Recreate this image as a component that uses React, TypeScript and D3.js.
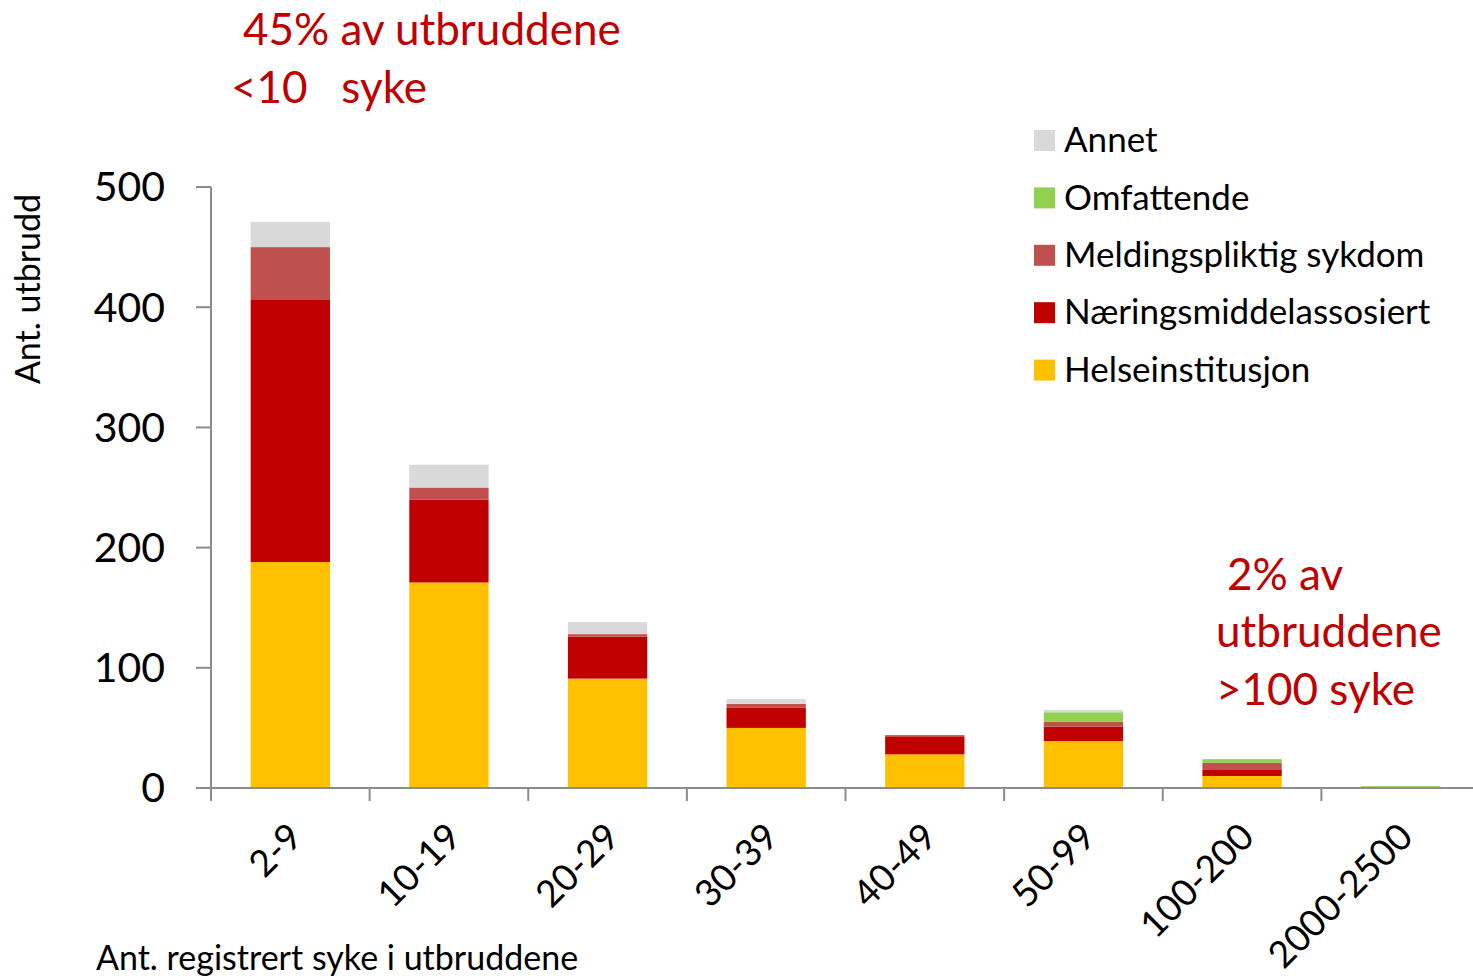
import React from 'react';
import * as d3 from 'd3';

// categories and series values
const categories = ['2-9', '10-19', '20-29', '30-39', '40-49', '50-99', '100-200', '2000-2500'];
const helse = [188, 171, 91, 50, 28, 39, 10, 0];
const naering = [218, 69, 35, 17, 15, 12, 5, 0];
const meldingspliktig = [44, 10, 2, 3, 1, 4, 6, 0];
const omfattende = [0, 0, 0, 0, 0, 8, 3, 1.5];
const annet = [21, 19, 10, 4, 0, 2, 0, 0];
const yTicks = [0, 100, 200, 300, 400, 500];

const seriesNames = ['Helseinstitusjon', 'Næringsmiddelassosiert', 'Meldingspliktig sykdom', 'Omfattende', 'Annet'];
const seriesColors = ['#FFC000', '#C00000', '#C0504D', '#92D050', '#D9D9D9'];

const FONT = 'Lato, "Open Sans", sans-serif';
const RED = '#C00000';

export default function App() {
  const width = 1473, height = 978;
  const margin = { top: 187, left: 211, bottom: 190, right: -7 };

  const rows = categories.map((c, i) => ({
    cat: c,
    Helseinstitusjon: helse[i],
    Næringsmiddelassosiert: naering[i],
    'Meldingspliktig sykdom': meldingspliktig[i],
    Omfattende: omfattende[i],
    Annet: annet[i],
  }));
  const stacked = d3.stack<any>().keys(seriesNames)(rows);

  const x = d3.scaleBand().domain(categories).range([margin.left, width - margin.right]).paddingInner(0.5).paddingOuter(0.25);
  const y = d3.scaleLinear().domain([0, 500]).range([height - margin.bottom + 0, margin.top]);
  const y0 = y(0);
  const step = x.step();
  const edges = d3.range(categories.length + 1).map(i => margin.left + i * step);

  return (
    <svg width={width} height={height} style={{ position: 'absolute', left: 0, top: 0, background: '#fff' }}>
      {stacked.map((s, si) => (
        <g key={s.key} fill={seriesColors[si]}>
          {s.map((d, i) => d[1] - d[0] > 0 ? (
            <rect key={i} x={x(categories[i])} width={x.bandwidth()} y={y(d[1])} height={y(d[0]) - y(d[1])} />
          ) : null)}
        </g>
      ))}
      {/* y axis */}
      <line x1={margin.left} x2={margin.left} y1={y(500)} y2={y0} stroke="#8C8C8C" strokeWidth={2} />
      {yTicks.map(t => (
        <g key={t}>
          <line x1={margin.left - 15} x2={margin.left} y1={y(t)} y2={y(t)} stroke="#8C8C8C" strokeWidth={2} />
          <text x={165} y={y(t)} dy="0.35em" textAnchor="end" fontFamily={FONT} fontSize={41} fill="#000">{t}</text>
        </g>
      ))}
      {/* x axis */}
      <line x1={margin.left} x2={width} y1={y0} y2={y0} stroke="#8C8C8C" strokeWidth={2} />
      {edges.map((e, i) => (
        <line key={i} x1={e} x2={e} y1={y0} y2={y0 + 13} stroke="#8C8C8C" strokeWidth={2} />
      ))}
      {categories.map(c => {
        const cx = (x(c) as number) + x.bandwidth() / 2 + 5;
        const cy = y0 + 42;
        return (
          <text key={c} transform={`translate(${cx},${cy}) rotate(-45)`} textAnchor="end" dy="0.35em" fontFamily={FONT} fontSize={37} fill="#000">{c}</text>
        );
      })}
      <text x={96} y={970} fontFamily={FONT} fontSize={34} fill="#000">Ant. registrert syke i utbruddene</text>
      <text transform="translate(40,289) rotate(-90)" textAnchor="middle" fontFamily={FONT} fontSize={34} fill="#000">Ant. utbrudd</text>
      {/* legend */}
      {seriesNames.slice().reverse().map((n, i) => {
        const ly = 140 + i * 57.4;
        return (
          <g key={n}>
            <rect x={1034} y={ly - 10} width={21} height={21} fill={seriesColors[seriesNames.length - 1 - i]} />
            <text x={1064} y={ly} dy="0.35em" fontFamily={FONT} fontSize={35} fill="#000">{n}</text>
          </g>
        );
      })}
      {/* annotations */}
      <text x={243} y={45} fontFamily={FONT} fontSize={44} fill={RED}>45% av utbruddene</text>
      <text x={231} y={103} fontFamily={FONT} fontSize={44} fill={RED} style={{ whiteSpace: 'pre' }}>{'<10   syke'}</text>
      <text x={1227} y={575} dy="0.35em" fontFamily={FONT} fontSize={44} fill={RED}>2% av</text>
      <text x={1216} y={632} dy="0.35em" fontFamily={FONT} fontSize={44} fill={RED}>utbruddene</text>
      <text x={1216} y={690} dy="0.35em" fontFamily={FONT} fontSize={44} fill={RED}>&gt;100 syke</text>
    </svg>
  );
}
